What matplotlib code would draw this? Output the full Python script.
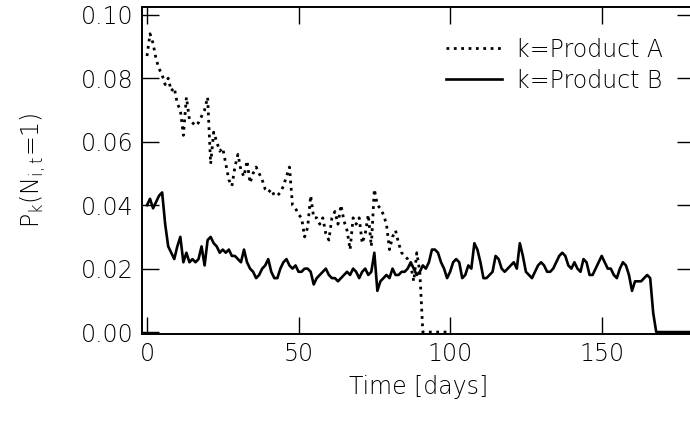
import matplotlib
matplotlib.use("Agg")
import matplotlib.pyplot as plt

# daily probabilities
product_a = [0.087, 0.094, 0.091, 0.086, 0.083, 0.081, 0.078, 0.080, 0.076, 0.077,
             0.072, 0.070, 0.062, 0.074, 0.067, 0.066, 0.065, 0.066, 0.068, 0.070,
             0.074, 0.053, 0.063, 0.060, 0.057, 0.058, 0.053, 0.048, 0.046, 0.052,
             0.056, 0.051, 0.049, 0.054, 0.047, 0.050, 0.052, 0.050, 0.048, 0.045,
             0.044, 0.045, 0.043, 0.043, 0.044, 0.046, 0.049, 0.052, 0.040, 0.039,
             0.037, 0.036, 0.030, 0.033, 0.043, 0.036, 0.036, 0.034, 0.036, 0.031,
             0.029, 0.036, 0.038, 0.034, 0.040, 0.035, 0.032, 0.026, 0.036, 0.034,
             0.036, 0.028, 0.031, 0.037, 0.027, 0.045, 0.040, 0.039, 0.037, 0.034,
             0.026, 0.030, 0.032, 0.028, 0.025, 0.024, 0.023, 0.021, 0.016, 0.025,
             0.019, 0.000, 0.000, 0.000, 0.000, 0.000, 0.000, 0.000, 0.000, 0.000]

product_b = [0.040, 0.042, 0.039, 0.041, 0.043, 0.044, 0.034, 0.027, 0.025, 0.023,
             0.027, 0.030, 0.022, 0.025, 0.022, 0.023, 0.022, 0.023, 0.027, 0.021,
             0.029, 0.030, 0.028, 0.027, 0.025, 0.026, 0.025, 0.026, 0.024, 0.024,
             0.023, 0.022, 0.026, 0.022, 0.020, 0.019, 0.017, 0.018, 0.020, 0.021,
             0.023, 0.019, 0.017, 0.017, 0.020, 0.022, 0.023, 0.021, 0.020, 0.021,
             0.019, 0.019, 0.020, 0.020, 0.019, 0.015, 0.017, 0.018, 0.019, 0.020,
             0.018, 0.017, 0.017, 0.016, 0.017, 0.018, 0.019, 0.018, 0.020, 0.019,
             0.017, 0.019, 0.020, 0.018, 0.019, 0.025, 0.013, 0.016, 0.017, 0.018,
             0.017, 0.020, 0.018, 0.018, 0.019, 0.019, 0.020, 0.022, 0.020, 0.018,
             0.019, 0.021, 0.020, 0.022, 0.026, 0.026, 0.025, 0.022, 0.020, 0.017,
             0.019, 0.022, 0.023, 0.022, 0.017, 0.018, 0.021, 0.020, 0.028, 0.026,
             0.022, 0.017, 0.017, 0.018, 0.019, 0.024, 0.023, 0.020, 0.019, 0.020,
             0.021, 0.022, 0.020, 0.028, 0.024, 0.019, 0.018, 0.017, 0.019, 0.021,
             0.022, 0.021, 0.019, 0.019, 0.020, 0.022, 0.024, 0.025, 0.024, 0.021,
             0.020, 0.022, 0.020, 0.019, 0.023, 0.022, 0.018, 0.018, 0.020, 0.022,
             0.024, 0.022, 0.020, 0.020, 0.018, 0.017, 0.020, 0.022, 0.021, 0.018,
             0.013, 0.016, 0.016, 0.016, 0.017, 0.018, 0.017, 0.006, 0.000, 0.000,
             0.000, 0.000, 0.000, 0.000, 0.000, 0.000, 0.000, 0.000, 0.000, 0.000,
             0.000]

days_a = list(range(len(product_a)))
days_b = list(range(len(product_b)))

x_ticks = [0, 50, 100, 150]
y_ticks = [0.00, 0.02, 0.04, 0.06, 0.08, 0.10]

plt.rcParams['font.family'] = ['DejaVu Sans']
plt.rcParams['font.weight'] = 'light'
plt.rcParams['axes.labelweight'] = 'light'
plt.rcParams['mathtext.default'] = 'regular'

fig = plt.figure(figsize=(6.9, 4.26), dpi=100)
ax = fig.add_axes([0.206, 0.216, 0.80, 0.768])

ax.plot(days_a, product_a, color='black', linestyle=':', linewidth=2.0, label='k=Product A')
ax.plot(days_b, product_b, color='black', linestyle='-', linewidth=1.9, label='k=Product B')

ax.set_xlim(-1.6, 180.5)
ax.set_ylim(-0.0006, 0.1025)
ax.set_xticks(x_ticks)
ax.set_yticks(y_ticks)
ax.set_yticklabels(['%.2f' % v for v in y_ticks])
ax.tick_params(direction='in', length=12, width=1.0, top=True, right=True,
               labelsize=17, pad=6)
for sp in ax.spines.values():
    sp.set_linewidth(1.4)

ax.set_xlabel('Time [days]', fontsize=17, fontweight='light', labelpad=6)
ax.set_ylabel('P$_k$(N$_{i,t}$=1)', fontsize=17, fontweight='light', labelpad=24)

ax.legend(loc='upper right', frameon=False, fontsize=17, handlelength=2.4,
          handletextpad=0.6, labelspacing=0.3, borderaxespad=0.9)

fig.savefig('out.png', dpi=100)
